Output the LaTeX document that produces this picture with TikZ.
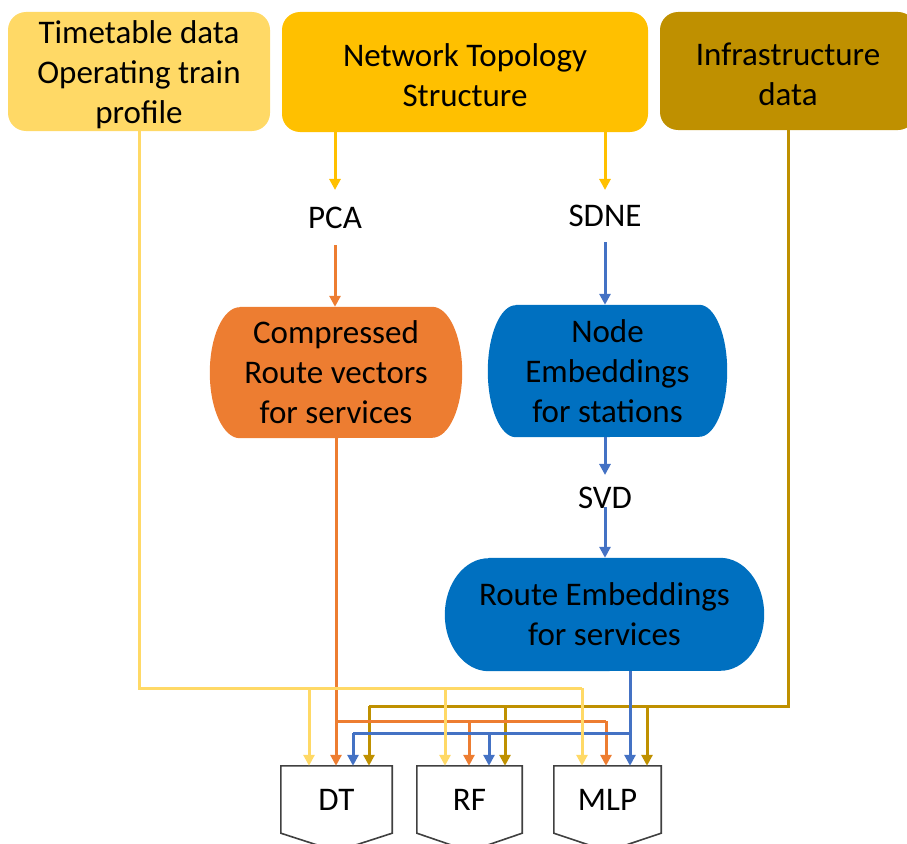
\documentclass[tikz,border=0pt]{standalone}
\usepackage{fontspec}
\setmainfont{Carlito}
\usetikzlibrary{arrows.meta,backgrounds}

\definecolor{ttcol}{HTML}{FFD966}
\definecolor{netcol}{HTML}{FFC000}
\definecolor{infcol}{HTML}{BF9000}
\definecolor{cmpcol}{HTML}{ED7D31}
\definecolor{embcol}{HTML}{0070C0}
\definecolor{bluline}{HTML}{4472C4}
\definecolor{boxgrey}{HTML}{404040}

% filled box with elliptical left and right ends, drawn behind a node
\newcommand\capsule[4]{%
  \fill[#4] ([xshift=#2]#1.north west) -- ([xshift=-#2]#1.north east)
    arc[start angle=90,end angle=-90,x radius=#2,y radius=#3]
    -- ([xshift=#2]#1.south west)
    arc[start angle=270,end angle=90,x radius=#2,y radius=#3] -- cycle;}

% model box: rectangle with a pointed bottom
\newcommand\modelbox[1]{%
  \draw[boxline] (#1.north west) -- (#1.north east) -- (#1.south east)
    -- ([yshift=-18pt]#1.south) -- (#1.south west) -- cycle;}

\begin{document}
\begin{tikzpicture}[x=1pt,y=-1pt,
  lbl/.style={font=\fontsize{33}{40}\selectfont, align=center, inner sep=0pt, text=black},
  topbox/.style={inner sep=0pt, rounded corners=18pt},
  toptext/.style={lbl, yshift=-3pt},
  conn/.style={line width=3pt},
  tip/.style={-{Triangle[width=11pt,length=11pt]}},
  boxline/.style={draw=boxgrey, line width=1.6pt}]

\clip (0,0) rectangle (907,843);
\useasboundingbox (0,0) rectangle (907,843);

% data sources
\node[topbox, fill=ttcol, minimum width=262pt, minimum height=119pt,
  label={[toptext]center:{Timetable data\\Operating train\\profile}}] (tt) at (139,71.5) {};
\node[topbox, fill=netcol, minimum width=366pt, minimum height=120pt,
  label={[toptext]center:{Network Topology\\Structure}}] (net) at (465,72) {};
\node[topbox, fill=infcol, minimum width=256pt, minimum height=118pt,
  label={[toptext]center:{Infrastructure\\data}}] (inf) at (788,71) {};

% methods
\node[lbl] (pca) at (335,218) {PCA};
\node[lbl] (sdne) at (605,216) {SDNE};
\node[lbl] (svd) at (605,498) {SVD};

% feature blocks
\node[lbl, minimum width=252pt, minimum height=131pt] (cmp) at (336,372.5)
  {Compressed\\Route vectors\\for services};
\node[lbl, minimum width=239pt, minimum height=132pt] (emb) at (607.5,371)
  {Node\\Embeddings\\for stations};
\node[lbl, minimum width=319pt, minimum height=113pt] (route) at (604.5,614.5)
  {Route Embeddings\\for services};

\begin{scope}[on background layer]
  \capsule{cmp}{30pt}{65.5pt}{cmpcol}
  \capsule{emb}{28pt}{66pt}{embcol}
  \capsule{route}{44pt}{56.5pt}{embcol}
\end{scope}

% models
\node[lbl, minimum width=111pt, minimum height=67pt] (dt) at (336.5,799.5) {DT};
\node[lbl, minimum width=105pt, minimum height=67pt] (rf) at (469.5,799.5) {RF};
\node[lbl, minimum width=107pt, minimum height=67pt] (mlp) at (607.5,799.5) {MLP};
\modelbox{dt}
\modelbox{rf}
\modelbox{mlp}

% embedding pipelines
\draw[conn, netcol, tip] (net.south -| pca) -- ([yshift=17pt]pca.north);
\draw[conn, cmpcol, tip] ([yshift=-16pt]pca.south) -- (pca.south |- cmp.north);
\draw[conn, netcol, tip] (net.south -| sdne) -- ([yshift=15pt]sdne.north);
\draw[conn, bluline, tip] ([yshift=-15pt]sdne.south) -- (sdne.south |- emb.north);
\draw[conn, bluline, tip] (emb.south -| svd) -- ([yshift=12pt]svd.north);
\draw[conn, bluline, tip] ([yshift=2pt]svd.south) -- (svd.south |- route.north);

% infrastructure feed
\coordinate (gd-dt) at (369,706);
\coordinate (gd-rf) at (505,706);
\coordinate (gd-mlp) at (647,706);
\draw[conn, infcol] (inf.south) |- (gd-dt);
\draw[conn, infcol, tip] (gd-dt) -- (gd-dt |- dt.north);
\draw[conn, infcol, tip] (gd-rf) -- (gd-rf |- rf.north);
\draw[conn, infcol, tip] (gd-mlp) -- (gd-mlp |- mlp.north);

% compressed route vector feed
\coordinate (or-dt) at (cmp.south |- 0,721);
\coordinate (or-rf) at (469,721);
\coordinate (or-mlp) at (606,721);
\draw[conn, cmpcol, tip] (cmp.south) -- (cmp.south |- dt.north);
\draw[conn, cmpcol] (or-dt) -- (or-mlp);
\draw[conn, cmpcol, tip] (or-rf) -- (or-rf |- rf.north);
\draw[conn, cmpcol, tip] (or-mlp) -- (or-mlp |- mlp.north);

% route embedding feed
\coordinate (bl-dt) at (353,733);
\coordinate (bl-rf) at (489,733);
\coordinate (bl-mlp) at (630,733);
\draw[conn, bluline, tip] (route.south -| bl-mlp) -- (bl-mlp |- mlp.north);
\draw[conn, bluline] (bl-mlp) -- (bl-dt);
\draw[conn, bluline, tip] (bl-dt) -- (bl-dt |- dt.north);
\draw[conn, bluline, tip] (bl-rf) -- (bl-rf |- rf.north);

% timetable feed
\coordinate (tt-dt) at (309,688);
\coordinate (tt-rf) at (445,688);
\coordinate (tt-mlp) at (582,688);
\draw[conn, ttcol] (tt.south) |- (tt-mlp);
\draw[conn, ttcol, tip] (tt-dt) -- (tt-dt |- dt.north);
\draw[conn, ttcol, tip] (tt-rf) -- (tt-rf |- rf.north);
\draw[conn, ttcol, tip] (tt-mlp) -- (tt-mlp |- mlp.north);

\end{tikzpicture}
\end{document}
